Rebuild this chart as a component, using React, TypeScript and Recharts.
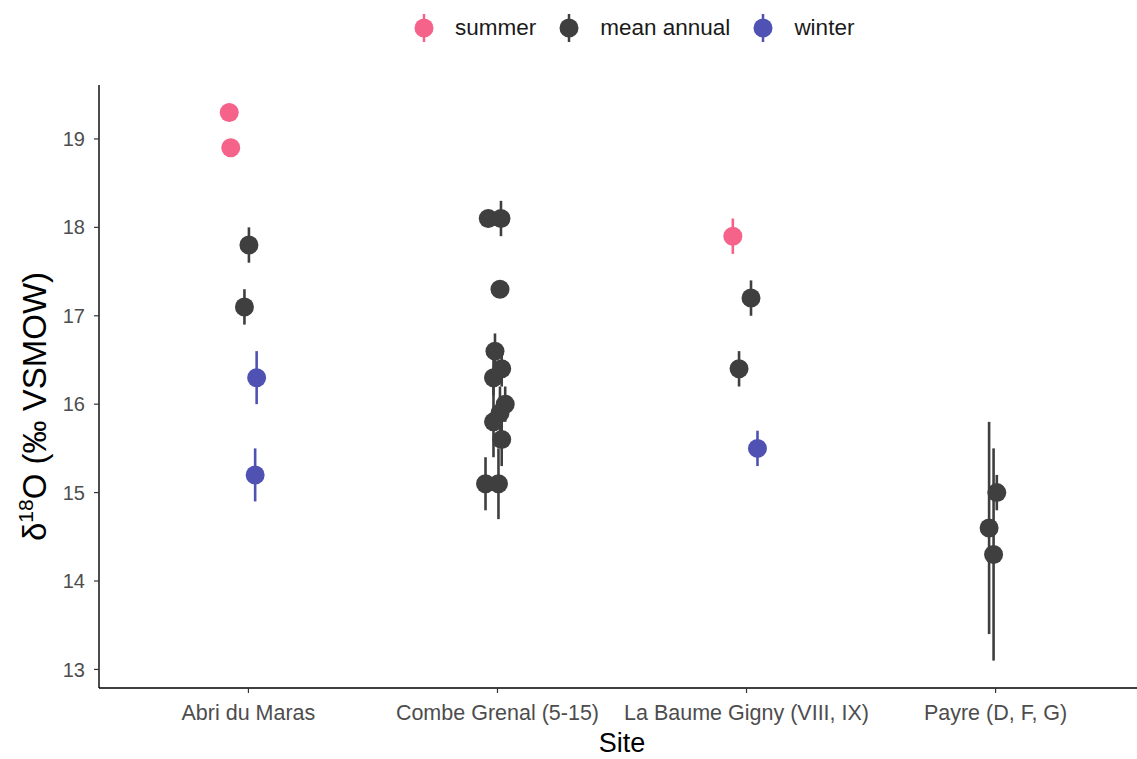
import React from 'react';
import { ScatterChart, Scatter, XAxis, YAxis, ErrorBar, Legend } from 'recharts';

// Categories (x positions 1..4)
const sites = ['Abri du Maras', 'Combe Grenal (5-15)', 'La Baume Gigny (VIII, IX)', 'Payre (D, F, G)'];
const yTicks = [13, 14, 15, 16, 17, 18, 19];

// Series values: jittered x position, δ18O value, error half-width
const summerX = [0.923, 0.929, 2.945];
const summerY = [19.3, 18.9, 17.9];
const summerErr = [0.1, 0.1, 0.2];

const meanX = [1.002, 0.984, 1.963, 2.014, 2.01, 1.99, 2.017, 1.984, 2.031, 2.01, 1.984, 2.017, 1.952, 2.004, 3.018, 2.97, 4.005, 3.974, 3.992];
const meanY = [17.8, 17.1, 18.1, 18.1, 17.3, 16.6, 16.4, 16.3, 16.0, 15.9, 15.8, 15.6, 15.1, 15.1, 17.2, 16.4, 15.0, 14.6, 14.3];
const meanErr = [0.2, 0.2, 0.1, 0.2, 0.1, 0.2, 0.2, 0.2, 0.2, 0.3, 0.4, 0.3, 0.3, 0.4, 0.2, 0.2, 0.2, 1.2, 1.2];

const winterX = [1.033, 1.027, 3.044];
const winterY = [16.3, 15.2, 15.5];
const winterErr = [0.3, 0.3, 0.2];

const build = (xs: number[], ys: number[], es: number[]) => xs.map((x, i) => ({ x, y: ys[i], err: es[i] }));

const series = [
  { name: 'summer', color: '#F5628A', data: build(summerX, summerY, summerErr) },
  { name: 'mean annual', color: '#3F3F3F', data: build(meanX, meanY, meanErr) },
  { name: 'winter', color: '#4F52B3', data: build(winterX, winterY, winterErr) },
];

const FONT = '"Liberation Sans", Arial, sans-serif';

const Dot = (color: string) => (props: any) => {
  const { cx, cy } = props;
  if (cx == null || cy == null) return null;
  return <circle cx={cx} cy={cy} r={9.5} fill={color} />;
};

const LegendContent = () => (
  <div style={{ display: 'flex', alignItems: 'center', height: 40, paddingLeft: 413, fontFamily: FONT }}>
    {series.map((s) => (
      <div key={s.name} style={{ display: 'flex', alignItems: 'center', marginRight: 22 }}>
        <svg width={22} height={32}>
          <line x1={11} x2={11} y1={2} y2={30} stroke={s.color} strokeWidth={2.5} />
          <circle cx={11} cy={16} r={9.5} fill={s.color} />
        </svg>
        <span style={{ marginLeft: 20, fontSize: 22.5, color: '#1a1a1a' }}>{s.name}</span>
      </div>
    ))}
  </div>
);

const YLabel = (props: any) => {
  const vb = props.viewBox || { x: 0, y: 85, width: 99, height: 603 };
  const cx = 46;
  const cy = vb.y + vb.height / 2 + 20;
  return (
    <text x={cx} y={cy} transform={`rotate(-90, ${cx}, ${cy})`} textAnchor="middle" fontFamily={FONT} fontSize={33} fill="#000">
      <tspan>δ</tspan>
      <tspan fontSize={21} dy={-13}>18</tspan>
      <tspan dy={13}>O (‰ VSMOW)</tspan>
    </text>
  );
};

const XLabel = (props: any) => {
  const vb = props.viewBox || { x: 99, y: 688, width: 1046, height: 60 };
  return (
    <text x={vb.x + vb.width / 2} y={752} textAnchor="middle" fontFamily={FONT} fontSize={27} fill="#000">
      Site
    </text>
  );
};

export default function App() {
  return (
    <div style={{ position: 'absolute', left: 0, top: 0, width: 1137, height: 759, overflow: 'hidden', background: '#fff' }}>
      <ScatterChart width={1145} height={759} margin={{ top: 45, right: 0, bottom: 11, left: 0 }}>
        <Legend verticalAlign="top" content={<LegendContent />} wrapperStyle={{ top: 8, left: 0, width: 1137, height: 40 }} />
        <XAxis
          type="number"
          dataKey="x"
          domain={[0.4, 4.6]}
          ticks={[1, 2, 3, 4]}
          allowDataOverflow
          height={60}
          tickFormatter={(v: number) => sites[Math.round(v) - 1] || ''}
          axisLine={{ stroke: '#000', strokeWidth: 1.4 }}
          tickLine={{ stroke: '#333', strokeWidth: 1.2 }}
          tickSize={5}
          tickMargin={12}
          tick={{ fill: '#4D4D4D', fontSize: 21.5, fontFamily: FONT }}
          label={<XLabel />}
        />
        <YAxis
          type="number"
          dataKey="y"
          domain={[12.79, 19.61]}
          ticks={yTicks}
          allowDataOverflow
          width={99}
          axisLine={{ stroke: '#000', strokeWidth: 1.4 }}
          tickLine={{ stroke: '#333', strokeWidth: 1.2 }}
          tickSize={5}
          tickMargin={9}
          tick={{ fill: '#4D4D4D', fontSize: 20, fontFamily: FONT }}
          label={<YLabel />}
        />
        {series.map((s) => (
          <Scatter key={s.name} name={s.name} data={s.data} fill={s.color} shape={Dot(s.color)} isAnimationActive={false}>
            <ErrorBar dataKey="err" direction="y" width={0} stroke={s.color} strokeWidth={2.6} isAnimationActive={false} />
          </Scatter>
        ))}
      </ScatterChart>
    </div>
  );
}
